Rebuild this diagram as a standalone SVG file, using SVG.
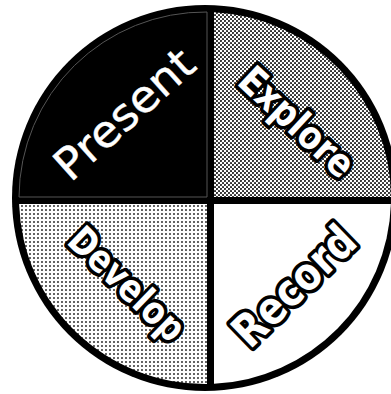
<svg xmlns="http://www.w3.org/2000/svg" width="391" height="394" viewBox="0 0 391 394">
<defs>
<pattern id="dotsDark" width="4" height="4" patternUnits="userSpaceOnUse">
<rect width="4" height="4" fill="#fff"/>
<circle cx="1" cy="1" r="1.05" fill="#222"/>
<circle cx="3" cy="3" r="1.05" fill="#222"/>
</pattern>
<pattern id="dotsLight" width="4" height="4" patternUnits="userSpaceOnUse">
<rect width="4" height="4" fill="#fff"/>
<circle cx="2" cy="2" r="0.95" fill="#222"/>
</pattern>
<style>
.lbl{font-family:"DejaVu Sans",sans-serif;font-weight:bold;fill:#fff;stroke:#000;stroke-width:7.5;paint-order:stroke;stroke-linejoin:round;text-anchor:middle;dominant-baseline:central}
.thin{font-family:"DejaVu Sans",sans-serif;fill:#fff;stroke:#fff;stroke-width:0.4;stroke-linejoin:round;text-anchor:middle;dominant-baseline:central}
</style>
</defs>
<rect width="391" height="394" fill="#fff"/>
<circle cx="205" cy="198" r="193" fill="#000"/>
<g id="present">
<path d="M207,197 V12.01 A186,186 0 0 0 19,197 Z" fill="#000" stroke="#555" stroke-width="1"/>
<text class="thin" x="124" y="114" font-size="44" textLength="172" lengthAdjust="spacingAndGlyphs" transform="rotate(-42 124 114)">Present</text>
</g>
<g id="explore">
<path d="M214,197 V12.22 A186,186 0 0 1 391,197 Z" fill="url(#dotsDark)"/>
<text class="lbl" x="297" y="122" font-size="39" textLength="142" lengthAdjust="spacingAndGlyphs" transform="rotate(43 297 122)">Explore</text>
</g>
<g id="develop">
<path d="M207,204 H19.1 A186,186 0 0 0 207,384 Z" fill="url(#dotsLight)"/>
<text class="lbl" x="127" y="284" font-size="38" textLength="146" lengthAdjust="spacingAndGlyphs" transform="rotate(44 127 284)">Develop</text>
</g>
<g id="record">
<path d="M214,204 V383.78 A186,186 0 0 0 390.9,204 Z" fill="#fff"/>
<text class="lbl" x="294" y="286" font-size="45" textLength="152" lengthAdjust="spacingAndGlyphs" transform="rotate(-44 294 286)">Record</text>
</g>
<g id="connectors"/>
</svg>
